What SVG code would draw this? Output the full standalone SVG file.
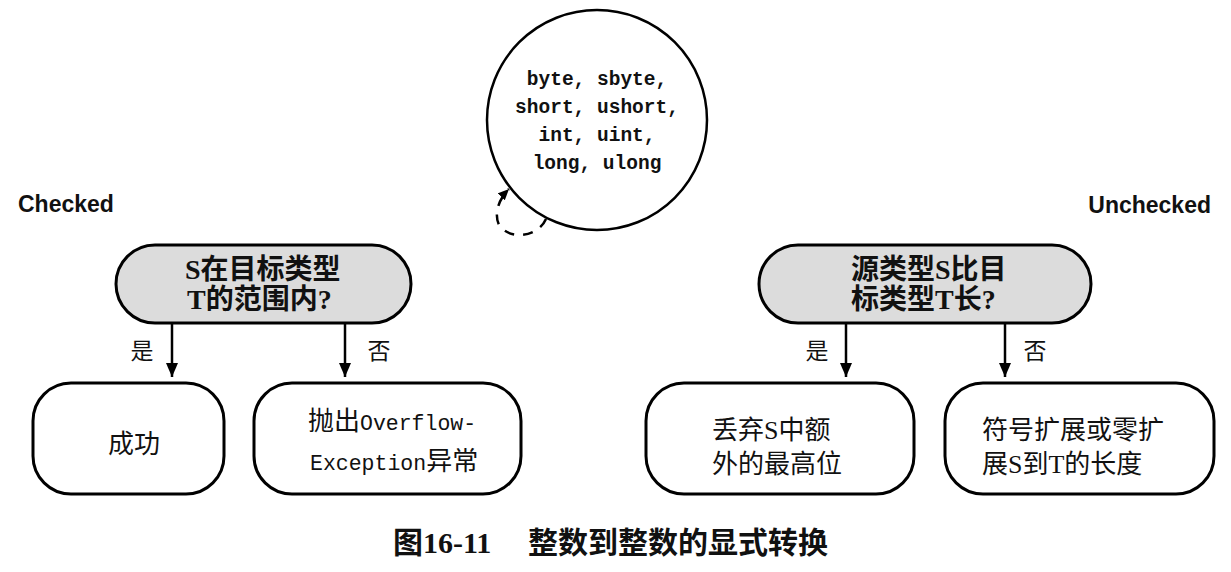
<svg xmlns="http://www.w3.org/2000/svg" width="1231" height="572" viewBox="0 0 1231 572">
<style>
.box{fill:#fff;stroke:#000;stroke-width:3}
.dec{fill:#dcdcdc;stroke:#000;stroke-width:3}
.ring{fill:#fff;stroke:#000;stroke-width:2.5}
.cjk{font-family:"Liberation Serif","Noto Sans CJK SC",serif;font-size:26px;fill:#111}
.dt{font-family:"Liberation Serif","Noto Sans CJK SC",serif;font-size:28px;font-weight:bold;fill:#111}
.yn{font-family:"Liberation Serif","Noto Sans CJK SC",serif;font-size:23px;fill:#111;text-anchor:middle}
.mono{font-family:"Liberation Mono","DejaVu Sans Mono",monospace;font-size:21.5px}
.cm{font-family:"Liberation Mono","DejaVu Sans Mono",monospace;font-size:19.5px;font-weight:bold;fill:#111;text-anchor:middle}
.mode{font-family:"Liberation Sans",Arial,sans-serif;font-size:23px;font-weight:bold;fill:#111}
.cap{font-family:"Liberation Serif","Noto Sans CJK SC",serif;font-size:30px;font-weight:bold;fill:#111}
.arr{stroke:#000;stroke-width:2.5;fill:none}
.dash{stroke:#000;stroke-width:2.5;fill:none;stroke-dasharray:10 9}
</style>
<defs>
<marker id="ah" markerUnits="userSpaceOnUse" markerWidth="14" markerHeight="12" viewBox="0 0 14 12" refX="14" refY="6" orient="auto">
<path d="M0,0 L14,6 L0,12 z" fill="#000"/>
</marker>
<marker id="ahs" markerUnits="userSpaceOnUse" markerWidth="11" markerHeight="10" viewBox="0 0 11 10" refX="11" refY="5" orient="auto">
<path d="M0,0 L11,5 L0,10 z" fill="#000"/>
</marker>
</defs>

<text class="mode" x="18" y="212">Checked</text>
<text class="mode" x="1211" y="213" text-anchor="end">Unchecked</text>

<g id="types">
<circle class="ring" cx="597" cy="120" r="110"/>
<text class="cm" x="597" y="85">byte, sbyte,</text>
<text class="cm" x="597" y="113">short, ushort,</text>
<text class="cm" x="597" y="141">int, uint,</text>
<text class="cm" x="597" y="169">long, ulong</text>
</g>

<g id="connectors">
<path class="dash" d="M546,219 C538,237 510,241 499,225 C494,214 498,200 509,189" marker-end="url(#ahs)"/>
<line class="arr" x1="172" y1="323" x2="172" y2="377" marker-end="url(#ah)"/>
<line class="arr" x1="345" y1="323" x2="345" y2="377" marker-end="url(#ah)"/>
<line class="arr" x1="846" y1="323" x2="846" y2="377" marker-end="url(#ah)"/>
<line class="arr" x1="1005" y1="323" x2="1005" y2="377" marker-end="url(#ah)"/>
<text class="yn" x="142" y="359">是</text>
<text class="yn" x="379" y="359">否</text>
<text class="yn" x="817" y="359">是</text>
<text class="yn" x="1035" y="359">否</text>
</g>

<g id="checkedQ">
<rect class="dec" x="116" y="245" width="295" height="78" rx="39"/>
<text class="dt" x="185" y="279">S在目标类型</text>
<text class="dt" x="187" y="309">T的范围内?</text>
</g>

<g id="success">
<rect class="box" x="33" y="383" width="191" height="111" rx="38"/>
<text class="cjk" x="134" y="453" text-anchor="middle">成功</text>
</g>

<g id="overflow">
<rect class="box" x="254" y="383" width="267" height="111" rx="38"/>
<text class="cjk" x="308" y="430">抛出<tspan class="mono">Overflow-</tspan></text>
<text class="cjk" x="310" y="470"><tspan class="mono">Exception</tspan>异常</text>
</g>

<g id="uncheckedQ">
<rect class="dec" x="759" y="245" width="332" height="78" rx="39"/>
<text class="dt" x="851" y="279">源类型S比目</text>
<text class="dt" x="851" y="309">标类型T长?</text>
</g>

<g id="truncate">
<rect class="box" x="646" y="383" width="268" height="111" rx="38"/>
<text class="cjk" x="712" y="439">丢弃S中额</text>
<text class="cjk" x="712" y="473">外的最高位</text>
</g>

<g id="extend">
<rect class="box" x="945" y="383" width="269" height="111" rx="38"/>
<text class="cjk" x="982" y="439">符号扩展或零扩</text>
<text class="cjk" x="982" y="473">展S到T的长度</text>
</g>

<text class="cap" y="553"><tspan x="393">图16-11</tspan><tspan x="528">整数到整数的显式转换</tspan></text>
</svg>
